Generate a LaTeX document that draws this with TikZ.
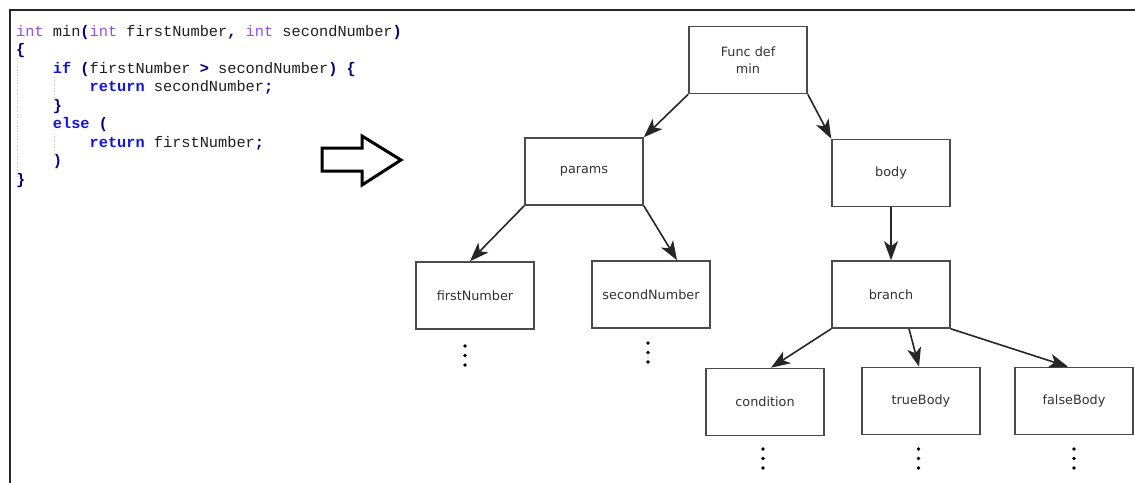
\documentclass[tikz,border=0pt]{standalone}
\usepackage{fontspec}
\setmainfont{DejaVu Sans}
\newfontfamily\codefont{Liberation Mono}
\usetikzlibrary{arrows.meta}
\definecolor{kwblue}{RGB}{20,20,225}
\definecolor{typepurple}{RGB}{145,80,230}
\definecolor{opnavy}{RGB}{0,0,120}
\definecolor{identcol}{RGB}{30,30,30}
\definecolor{boxline}{RGB}{75,75,75}
\definecolor{boxtext}{RGB}{50,50,50}
\newcommand{\kwd}[1]{\textbf{\color{kwblue}#1}}
\newcommand{\typ}[1]{{\color{typepurple}#1}}
\newcommand{\opr}[1]{\textbf{\color{opnavy}#1}}
\tikzset{
  codeline/.style={anchor=base west, inner sep=0pt, font=\codefont\fontsize{15.3}{18}\selectfont, text=identcol},
  treebox/.style={draw=boxline, line width=1.6pt, minimum width=118pt, minimum height=67pt,
    inner sep=0pt, align=center, text=boxtext, font=\fontsize{12.8}{17}\selectfont},
  treelink/.style={draw=black!85, line width=1.6pt, -{Stealth[length=19pt,width=14pt,inset=5pt]}},
  guide/.style={draw=black!22, line width=0.8pt, dotted},
  ellip/.style={fill=black}
}
\begin{document}
\begin{tikzpicture}[x=1pt,y=-1pt]
\useasboundingbox (0,0) rectangle (1135,482);

% frame
\draw[line width=2pt, black!85, line cap=rect] (10,482) -- (10,10) -- (1135,10);

% source code
\pgfmathsetmacro{\cw}{9.18}
\node[codeline] (c1) at (16,36) {\typ{int} min\opr{(}\typ{int} firstNumber\opr{,} \typ{int} secondNumber\opr{)}};
\node[codeline] (c2) at (16,54.5) {\opr{\{}};
\node[codeline] (c3) at ({16+4*\cw},73) {\kwd{if} \opr{(}firstNumber \opr{>} secondNumber\opr{)} \opr{\{}};
\node[codeline] (c4) at ({16+8*\cw},91.5) {\kwd{return} secondNumber\opr{;}};
\node[codeline] (c5) at ({16+4*\cw},110) {\opr{\}}};
\node[codeline] (c6) at ({16+4*\cw},128.5) {\kwd{else} \opr{(}};
\node[codeline] (c7) at ({16+8*\cw},147) {\kwd{return} firstNumber\opr{;}};
\node[codeline] (c8) at ({16+4*\cw},165.5) {\opr{)}};
\node[codeline] (c9) at (16,184) {\opr{\}}};

% indentation guides
\draw[guide] (17.5,58) -- (17.5,176);
\draw[guide] (54,77) -- (54,101);
\draw[guide] (54,133) -- (54,158);

% hollow transform arrow
\draw[line width=3pt, line join=miter, black]
  (322,148) -- (362,148) -- (362,136) -- (401,160) -- (362,185) -- (362,171) -- (322,171) -- cycle;

% syntax tree
\node[treebox] (fdef)   at (748,60)    {Func def\\min};
\node[treebox] (params) at (584,171.5) {params};
\node[treebox] (body)   at (891,173)   {body};
\node[treebox] (first)  at (475,295.5) {firstNumber};
\node[treebox] (second) at (651,294.5) {secondNumber};
\node[treebox] (branch) at (891,294.5) {branch};
\node[treebox] (cond)   at (765,402)   {condition};
\node[treebox] (tbody)  at (921,401)   {trueBody};
\node[treebox] (fbody)  at (1074,401)  {falseBody};

\draw[treelink] (fdef.south west) -- (params.north east);
\draw[treelink] (fdef.south east) -- (body.north west);
\draw[treelink] (params.south west) -- ([xshift=-5pt]first.north);
\draw[treelink] (params.south east) -- ([xshift=26pt]second.north);
\draw[treelink] (body.south) -- (branch.north);
\draw[treelink] (branch.south west) -- ([xshift=6pt]cond.north);
\draw[treelink] ([xshift=18pt]branch.south) -- ([xshift=-2pt]tbody.north);
\draw[treelink] (branch.south east) -- ([xshift=-6pt]fbody.north);

% continuation dots
\foreach \y in {346,355.5,365} \fill[ellip] (465,\y) circle (1.8);
\foreach \y in {343,352.5,362} \fill[ellip] (648,\y) circle (1.8);
\foreach \x in {763,918.5,1074} {
  \foreach \y in {449,458.5,468} \fill[ellip] (\x,\y) circle (1.8);
}
\end{tikzpicture}
\end{document}
